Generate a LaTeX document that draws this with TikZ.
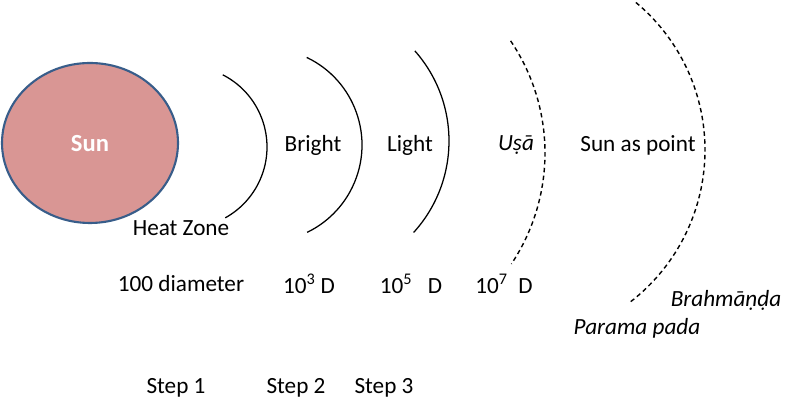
\documentclass[tikz,border=0pt]{standalone}
\usepackage{fontspec}
\setmainfont{Carlito}
\definecolor{sunfill}{RGB}{217,150,148}
\definecolor{sunline}{RGB}{56,93,138}

\begin{document}
\begin{tikzpicture}[font=\fontsize{16.5}{20}\selectfont,
  zone/.style = {line width=0.9pt},
  farzone/.style = {line width=1pt, dash pattern=on 3.2pt off 2.4pt}]
\useasboundingbox (0,0) rectangle (20,10.2);

\draw[fill=sunfill, draw=sunline, line width=1.5pt] (2.25,6.625) ellipse (2.2 and 2.0);
\node[text=white, font=\fontsize{17.5}{21}\selectfont\bfseries] (sun) at (2.25,6.6) {Sun};

% zone boundaries
\draw[zone] (4.65,6.525) ++(63:2.025) arc (63:-61:2.025);
\draw[zone] (6.625,6.575) ++(64.5:2.425) arc (64.5:-64.2:2.425);
\draw[zone] (7.825,6.675) ++(41.5:3.4) arc (41.5:-42.3:3.4);
\draw[farzone] (8.625,6.375) ++(34.1:5.0) arc (34.1:-33.7:5.0);
\draw[farzone] (12.825,6.45) ++(50.2:4.8) arc (50.2:-52.3:4.8);

\node (heat) at (4.525,4.5) {Heat Zone};
\node (bright) at (7.825,6.575) {Bright};
\node (light) at (10.25,6.575) {Light};
\node (usa) at (12.9,6.575) {\itshape Uṣā};
\node (point) at (15.95,6.575) {Sun as point};

\node (d100) at (4.525,3.1) {100 diameter};
\node (d3) at (7.725,3.1) {10\textsuperscript{3} D};
\node (d5) at (10.275,3.1) {10\textsuperscript{5}\ \ \ D};
\node (d7) at (12.6,3.1) {10\textsuperscript{7}\ \ D};

\node (brahmanda) at (18.15,2.7) {\itshape Brahmāṇḍa};
\node (parama) at (15.925,2.0) {\itshape Parama pada};

\node (step1) at (4.4,0.5) {Step 1};
\node (step2) at (7.4,0.5) {Step 2};
\node (step3) at (9.6,0.5) {Step 3};
\end{tikzpicture}
\end{document}
